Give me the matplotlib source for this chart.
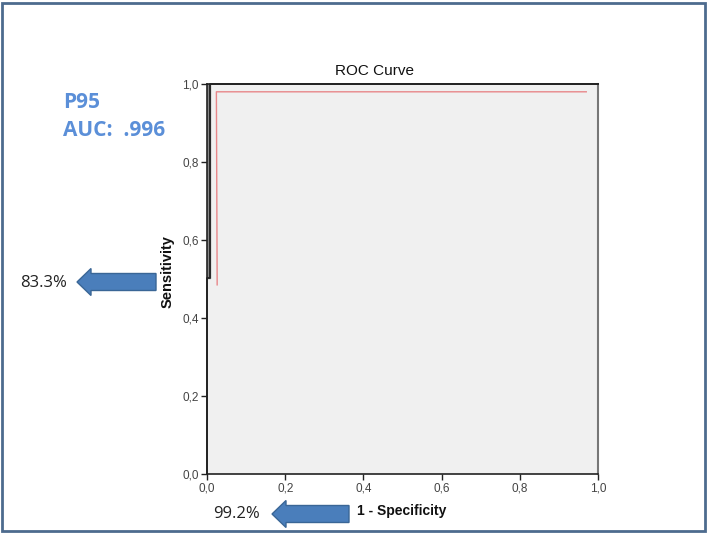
import matplotlib
matplotlib.use("Agg")
import matplotlib.pyplot as plt
from matplotlib.patches import FancyArrow, Rectangle

# ROC curve data (black step curve)
roc_fpr = [0.0, 0.0, 0.008, 0.008, 1.0]
roc_tpr = [0.0, 0.503, 0.503, 1.0, 1.0]
# red line
red_x = [0.026, 0.024, 0.97]
red_y = [0.485, 0.98, 0.98]
tick_vals = [0.0, 0.2, 0.4, 0.6, 0.8, 1.0]
tick_labels = ["0,0", "0,2", "0,4", "0,6", "0,8", "1,0"]
sens_label = "83.3%"
spec_label = "99.2%"
model_name = "P95"
auc_text = "AUC:  .996"

plt.rcParams['font.family'] = ['Liberation Sans', 'DejaVu Sans']
W, H = 709, 534
fig = plt.figure(figsize=(W/100, H/100), dpi=100)

# outer border
fig.patches.append(Rectangle((2/W, 3/H), 703/W, 528/H, transform=fig.transFigure,
                             fill=False, edgecolor='#4d6b8e', linewidth=2.0))

ax = fig.add_axes([207/W, 60/H, 391/W, 390/H])
ax.set_facecolor('#f0f0f0')
ax.set_xlim(0, 1)
ax.set_ylim(0, 1)
ax.plot(roc_fpr, roc_tpr, color='#222222', lw=1.3, zorder=3, clip_on=False)
ax.fill_betweenx([0.503, 1.0], 0.0, 0.008, color='#888888', zorder=2)
ax.plot(red_x, red_y, color='#e8878a', lw=1.0, zorder=3)
for s in ['left', 'bottom', 'top']:
    ax.spines[s].set_color('#222222')
    ax.spines[s].set_linewidth(1.2)
ax.spines['right'].set_color('#777777')
ax.spines['right'].set_linewidth(1.5)
ax.set_xticks(tick_vals)
ax.set_xticklabels(tick_labels)
ax.set_yticks(tick_vals)
ax.set_yticklabels(tick_labels)
ax.tick_params(length=4, width=1, color='#222222', labelsize=8.5, labelcolor='#444444', pad=2)

fig.text(375/W, 1 - 71/H, "ROC Curve", fontsize=11, color='#111111', ha='center', va='center')
fig.text(168/W, 1 - 272/H, "Sensitivity", fontsize=10.5, fontweight='bold', rotation=90,
         ha='center', va='center', color='#111111')
fig.text(357/W, 1 - 511/H, "1 - Specificity", fontsize=10, fontweight='bold',
         ha='left', va='center', color='#111111')

# annotations
fig.text(63/W, 1 - 103/H, model_name, color='#5b8fd8', fontsize=15, fontweight='bold', va='center',
         family=['Open Sans', 'DejaVu Sans'])
fig.text(63/W, 1 - 131/H, auc_text, color='#5b8fd8', fontsize=15, fontweight='bold', va='center',
         family=['Open Sans', 'DejaVu Sans'])
fig.text(20/W, 1 - 283/H, sens_label, fontsize=12, color='#222222', va='center',
         family=['Open Sans', 'DejaVu Sans'])
fig.text(213/W, 1 - 514/H, spec_label, fontsize=12, color='#222222', va='center',
         family=['Open Sans', 'DejaVu Sans'])

def block_arrow(x_start, x_end, y):
    ys = 1 - y/H
    arr = FancyArrow(x_start/W, ys, (x_end - x_start)/W, 0, width=17/H, head_width=27/H,
                     head_length=14/W, length_includes_head=True, transform=fig.transFigure,
                     facecolor='#4a7ebb', edgecolor='#3a6696', linewidth=1.0)
    fig.patches.append(arr)

block_arrow(156, 77, 282)
block_arrow(349, 272, 514)

fig.savefig("out.png", dpi=100)
